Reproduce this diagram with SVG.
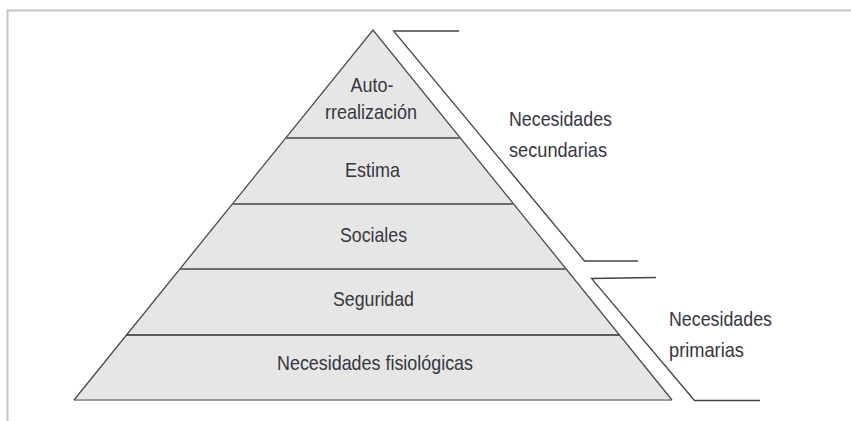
<svg xmlns="http://www.w3.org/2000/svg" width="851" height="421" viewBox="0 0 851 421">
<style>
.frame{fill:none;stroke:#c4c4c4;stroke-width:2}
.side{fill:none;stroke:#4a4a4a;stroke-width:1.3}
.div{stroke:#6e6e6e;stroke-width:1.8}
.brk{fill:none;stroke:#444;stroke-width:1.3}
.t{font-family:"Liberation Sans",Arial,sans-serif;font-size:21px;fill:#363640;text-anchor:middle}
.r{font-family:"Liberation Sans",Arial,sans-serif;font-size:21px;fill:#363640}
</style>
<rect width="851" height="421" fill="#fff"/>
<path class="frame" d="M7.5 421 V10.5 H851"/>
<g id="pyramid">
<polygon points="373,30 672,400 74,400" fill="#e6e6e6" stroke="none"/>
<line x1="74" y1="400" x2="672" y2="400" stroke="#9a9a9a" stroke-width="1.8"/>
<path class="side" d="M74 400 L373 30 L672 400"/>
</g>
<g id="dividers">
<line class="div" x1="285.7" y1="138" x2="460.3" y2="138"/>
<line class="div" x1="232.4" y1="204" x2="513.6" y2="204"/>
<line class="div" x1="179.9" y1="269" x2="566.1" y2="269"/>
<line x1="126.5" y1="335" x2="619.5" y2="335" stroke="#2e2e2e" stroke-width="1.3"/>
</g>
<g id="level-autorrealizacion">
<text class="t" x="372" y="92" textLength="43" lengthAdjust="spacingAndGlyphs">Auto-</text>
<text class="t" x="371" y="119" textLength="92" lengthAdjust="spacingAndGlyphs">rrealización</text>
</g>
<g id="level-estima">
<text class="t" x="372.5" y="177" textLength="55" lengthAdjust="spacingAndGlyphs">Estima</text>
</g>
<g id="level-sociales">
<text class="t" x="373.5" y="242" textLength="67" lengthAdjust="spacingAndGlyphs">Sociales</text>
</g>
<g id="level-seguridad">
<text class="t" x="373.5" y="306" textLength="81" lengthAdjust="spacingAndGlyphs">Seguridad</text>
</g>
<g id="level-fisiologicas">
<text class="t" x="375" y="370" textLength="196" lengthAdjust="spacingAndGlyphs">Necesidades fisiológicas</text>
</g>
<g id="connectors">
<path class="brk" d="M459 31 H393.5 L584.5 261 H638"/>
<path class="brk" d="M656 277.5 L591.5 278.5 L694.5 400.5 H760"/>
</g>
<g id="label-secundarias">
<text class="r" x="509" y="126" textLength="103" lengthAdjust="spacingAndGlyphs">Necesidades</text>
<text class="r" x="509" y="157" textLength="98" lengthAdjust="spacingAndGlyphs">secundarias</text>
</g>
<g id="label-primarias">
<text class="r" x="669" y="326" textLength="103" lengthAdjust="spacingAndGlyphs">Necesidades</text>
<text class="r" x="669" y="357" textLength="75" lengthAdjust="spacingAndGlyphs">primarias</text>
</g>
</svg>
